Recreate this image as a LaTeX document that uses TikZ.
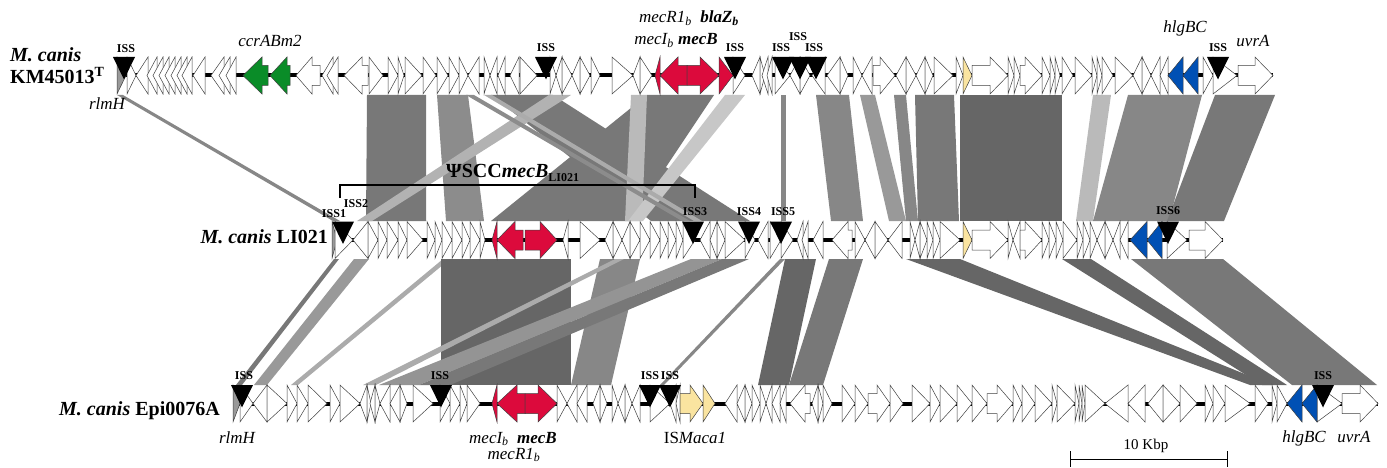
\documentclass[tikz,border=0pt]{standalone}
\usepackage{fontspec}
\setmainfont{Liberation Serif}
\definecolor{gred}{RGB}{220,10,60}
\definecolor{ggreen}{RGB}{10,140,40}
\definecolor{gblue}{RGB}{0,80,180}
\definecolor{gyel}{RGB}{250,228,160}
\newcommand{\gtri}[4]{\draw[gene,fill=#4] (#2,#1-18.5) -- (#3,#1) -- (#2,#1+18.5) -- cycle;}
\newcommand{\garr}[5]{\draw[gene,fill=#5] (#2,#1-10) -- (#3,#1-10) -- (#3,#1-18.5) -- (#4,#1) -- (#3,#1+18.5) -- (#3,#1+10) -- (#2,#1+10) -- cycle;}
\newcommand{\giss}[2]{\fill[black] (#2-11,#1-18.5) -- (#2+11,#1-18.5) -- (#2,#1+4) -- cycle;}
\newcommand{\gband}[7]{\fill[#7] (#1,#5) -- (#2,#5) -- (#4,#6) -- (#3,#6) -- cycle;}
\tikzset{
  gene/.style={draw=black!75, line width=0.5pt, line join=miter},
  bb/.style={line width=4pt, black},
  lab/.style={font=\fontsize{17}{18}\selectfont\itshape, inner sep=0pt},
  isslab/.style={font=\fontsize{12}{12}\selectfont\bfseries, inner sep=0pt},
  gname/.style={font=\fontsize{20}{22}\selectfont\bfseries, inner sep=0pt},
}
\begin{document}
\begin{tikzpicture}[x=1pt,y=-1pt]
\useasboundingbox (0,0) rectangle (1387,468);
% ---------- bands top -> middle ----------
\gband{367}{426}{366}{426}{95}{221}{black!53}
\gband{437}{468}{446}{484}{95}{221}{black!45}
\gband{491}{553}{651}{750}{95}{221}{black!53}
\gband{647}{714}{491}{630}{95}{221}{black!53}
\gband{631}{647}{625}{642}{95}{221}{black!27}
\gband{725}{745}{628}{643}{95}{221}{black!22}
\gband{549}{571}{357}{372}{95}{221}{black!30}
\gband{466}{474}{682}{690}{95}{221}{black!45}
\gband{484}{492}{694}{702}{95}{221}{black!33}
\gband{117}{123}{333}{340}{95}{221}{black!47}
\gband{781}{786}{781}{786}{95}{221}{black!47}
\gband{816}{849}{831}{863}{95}{221}{black!47}
\gband{860}{875}{889}{906}{95}{221}{black!40}
\gband{894}{906}{906}{918}{95}{221}{black!47}
\gband{915}{954}{918}{959}{95}{221}{black!53}
\gband{960}{1062}{960}{1062}{95}{221}{black!60}
\gband{1093}{1111}{1076}{1093}{95}{221}{black!27}
\gband{1128}{1202}{1093}{1169}{95}{221}{black!47}
\gband{1215}{1275}{1167}{1224}{95}{221}{black!53}
% ---------- bands middle -> bottom ----------
\gband{334}{339}{236}{242}{259}{385}{black!53}
\gband{354}{369}{254}{267}{259}{385}{black!40}
\gband{443}{450}{291}{298}{259}{385}{black!33}
\gband{441}{571}{441}{571}{259}{385}{black!60}
\gband{600}{640}{571}{611}{259}{385}{black!47}
\gband{615}{624}{363}{376}{259}{385}{black!33}
\gband{691}{722}{379}{419}{259}{385}{black!42}
\gband{722}{749}{419}{450}{259}{385}{black!53}
\gband{780}{785}{660}{664}{259}{385}{black!47}
\gband{785}{816}{758}{789}{259}{385}{black!60}
\gband{829}{863}{789}{823}{259}{385}{black!53}
\gband{906}{960}{1250}{1272}{259}{385}{black!60}
\gband{1062}{1091}{1262}{1287}{259}{385}{black!60}
\gband{1131}{1223}{1292}{1377}{259}{385}{black!53}
% ---------- top row ----------
\draw[bb] (117,75.5) -- (1273,75.5);
\gtri{75.5}{117}{126}{black!40}
\foreach \a/\b in {127/136, 148/136, 157/147, 163/153, 169/159, 175/165, 181/171, 187/177, 192/182, 205/193, 224/211, 230/219, 236/226, 333/322, 338/327, 369/383, 388/398, 398/404, 405/422, 423/436, 437/448, 449/459, 459/468, 479/468, 484/490, 497/490, 505/498, 519/510, 520/537, 550/556, 562/556, 562/572, 580/572, 580/590, 591/600, 612/633, 640/633, 640/652, 733/745, 760/752, 760/765, 768/762, 772/767, 775/790, 800/790, 800/810, 825/812, 840/827, 840/848, 853/862, 872/862, 906/896, 906/916, 925/916, 925/933, 934/953, 956/963, 1008/1014, 1014/1020, 1042/1050, 1050/1055, 1055/1060, 1062/1073, 1075/1092, 1092/1097, 1097/1102, 1102/1113, 1115/1133, 1142/1133, 1142/1151, 1160/1151, 1168/1160, 1203/1213, 1213/1237}
  {\gtri{75.5}{\a}{\b}{white}}
\garr{75.5}{268}{262}{243}{ggreen}
\garr{75.5}{290}{287}{270}{ggreen}
\garr{75.5}{320}{312}{296}{white}
\garr{75.5}{368}{362}{344}{white}
\gtri{75.5}{660}{655}{gred}
\garr{75.5}{687}{678}{660}{gred}
\garr{75.5}{687}{700}{719}{gred}
\gtri{75.5}{719}{733}{gred}
\garr{75.5}{873}{880}{895}{white}
\gtri{75.5}{963}{972}{gyel}
\garr{75.5}{972}{990}{1008}{white}
\garr{75.5}{1020}{1025}{1042}{white}
\gtri{75.5}{1183}{1168}{gblue}
\gtri{75.5}{1198}{1183}{gblue}
\garr{75.5}{1238}{1255}{1273}{white}
\foreach \c in {124,546,735,783,800,816,1218} {\giss{75.5}{\c}}
% ---------- middle row ----------
\draw[bb] (332,240) -- (1223,240);
\gtri{240}{332}{337}{black!40}
\foreach \a/\b in {335/353, 368/353, 368/378, 378/387, 387/398, 398/407, 407/423, 427/435, 435/442, 442/452, 452/462, 462/470, 470/480, 480/485, 568/563, 580/600, 613/605, 613/622, 630/622, 630/640, 640/650, 650/660, 660/668, 668/676, 676/683, 683/695, 710/700, 717/710, 717/725, 725/745, 745/755, 768/758, 770/781, 781/793, 803/797, 808/802, 823/813, 855/865, 875/865, 875/888, 902/888, 910/915, 920/915, 920/927, 927/933, 933/940, 940/960, 1008/1013, 1020/1013, 1042/1049, 1049/1056, 1056/1063, 1063/1077, 1077/1083, 1083/1090, 1090/1097, 1105/1097, 1105/1113, 1120/1113, 1128/1120, 1167/1187}
  {\gtri{240}{\a}{\b}{white}}
\gtri{240}{497}{492}{gred}
\garr{240}{523}{515}{497}{gred}
\garr{240}{525}{540}{557}{gred}
\garr{240}{852}{848}{832}{white}
\gtri{240}{963}{972}{gyel}
\garr{240}{972}{990}{1008}{white}
\garr{240}{1020}{1025}{1042}{white}
\gtri{240}{1147}{1130}{gblue}
\gtri{240}{1162}{1147}{gblue}
\garr{240}{1189}{1205}{1223}{white}
\foreach \c in {343,693,749,781,1168} {\giss{240}{\c}}
% ---------- bottom row ----------
\draw[bb] (233,403.5) -- (1378,403.5);
\gtri{403.5}{233}{240}{black!40}
\foreach \a/\b in {240/253, 267/253, 267/287, 287/297, 297/308, 308/327, 330/340, 340/360, 367/360, 367/371, 375/370, 375/380, 390/380, 400/390, 400/407, 413/433, 440/450, 450/460, 460/467, 467/480, 557/567, 577/567, 587/577, 600/593, 600/607, 612/618, 625/618, 625/632, 640/632, 650/670, 676/670, 680/676, 737/725, 745/737, 745/752, 752/760, 760/766, 772/766, 780/772, 786/780, 818/812, 818/823, 823/832, 842/855, 855/868, 890/903, 912/930, 930/940, 940/957, 957/972, 972/987, 1013/1022, 1022/1035, 1035/1052, 1052/1057, 1057/1075, 1075/1079, 1079/1082, 1082/1085, 1085/1105, 1128/1105, 1145/1128, 1163/1148, 1163/1180, 1180/1197, 1205/1213, 1213/1225, 1225/1250, 1255/1268, 1272/1277, 1277/1287, 1317/1342}
  {\gtri{403.5}{\a}{\b}{white}}
\gtri{403.5}{497}{492}{gred}
\garr{403.5}{525}{517}{497}{gred}
\garr{403.5}{525}{538}{557}{gred}
\garr{403.5}{680}{690}{703}{gyel}
\gtri{403.5}{703}{715}{gyel}
\garr{403.5}{810}{805}{790}{white}
\garr{403.5}{868}{877}{890}{white}
\garr{403.5}{987}{997}{1013}{white}
\gtri{403.5}{1302}{1287}{gblue}
\gtri{403.5}{1317}{1302}{gblue}
\garr{403.5}{1342}{1360}{1378}{white}
\foreach \c in {242,441,650,670,1323} {\giss{403.5}{\c}}
% ---------- bracket ----------
\coordinate (brL) at (340,198);
\coordinate (brR) at (695,198);
\draw[line width=2pt] (brL) -- (340,185) -- (695,185) -- (brR);
\node[font=\fontsize{20}{21}\selectfont\bfseries, inner sep=0pt, anchor=base west] (psi) at (446,178) {ΨSCC\textit{mecB}\textsubscript{\fontsize{12}{12}\selectfont LI021}};
% ---------- ISS labels ----------
\node[isslab] (i1) at (126,49) {ISS};
\node[isslab] (i2) at (546,48) {ISS};
\node[isslab] (i3) at (735,48) {ISS};
\node[isslab] (i4) at (781,48) {ISS};
\node[isslab] (i5) at (798,37) {ISS};
\node[isslab] (i6) at (814,48) {ISS};
\node[isslab] (i7) at (1218,48) {ISS};
\node[isslab] (m1) at (334,214) {ISS1};
\node[isslab] (m2) at (356,204) {ISS2};
\node[isslab] (m3) at (695,212) {ISS3};
\node[isslab] (m4) at (749,212) {ISS4};
\node[isslab] (m5) at (783,212) {ISS5};
\node[isslab] (m6) at (1168,211) {ISS6};
\node[isslab] (b1) at (244,376) {ISS};
\node[isslab] (b2) at (440,376) {ISS};
\node[isslab] (b3) at (650,376) {ISS};
\node[isslab] (b4) at (670,376) {ISS};
\node[isslab] (b5) at (1323,376) {ISS};
% ---------- gene labels ----------
\node[lab, anchor=base] (ccr) at (270,47) {ccrABm2};
\node[lab, anchor=base] (mr1) at (689,23) {mecR1\textsubscript{b}\ \ \textbf{blaZ\textsubscript{b}}};
\node[lab, anchor=base] (mi1) at (676,45) {mecI\textsubscript{b} \textbf{mecB}};
\node[lab, anchor=base] (rl1) at (107,110) {rlmH};
\node[lab, anchor=base] (hl1) at (1185,33) {hlgBC};
\node[lab, anchor=base] (uv1) at (1253,47) {uvrA};
\node[lab, anchor=base] (rl3) at (237,443) {rlmH};
\node[lab, anchor=base] (mi3) at (513,443) {mecI\textsubscript{b}\ \ \textbf{mecB}};
\node[lab, anchor=base] (mr3) at (514,459) {mecR1\textsubscript{b}};
\node[lab, anchor=base] (is3) at (695,443) {\upshape IS\itshape Maca1};
\node[lab, anchor=base] (hl3) at (1304,442) {hlgBC};
\node[lab, anchor=base] (uv3) at (1354,442) {uvrA};
% ---------- genome names ----------
\node[gname, anchor=base west] (g1a) at (10,62) {\textit{M. canis}};
\node[gname, anchor=base west] (g1b) at (10,84) {KM45013\textsuperscript{T}};
\node[gname, anchor=base east] (g2) at (328,243) {\textit{M. canis} LI021};
\node[gname, anchor=base east] (g3) at (220,415) {\textit{M. canis} Epi0076A};
% ---------- scale bar ----------
\coordinate (sb1) at (1070,459);
\coordinate (sb2) at (1227,459);
\draw[line width=0.8pt] (sb1) -- (sb2);
\draw[line width=0.8pt] (1070,451) -- (1070,467);
\draw[line width=0.8pt] (1227,451) -- (1227,467);
\node[font=\fontsize{15}{16}\selectfont, inner sep=0pt, anchor=base] (sbl) at (1146,449) {10 Kbp};
\end{tikzpicture}
\end{document}
